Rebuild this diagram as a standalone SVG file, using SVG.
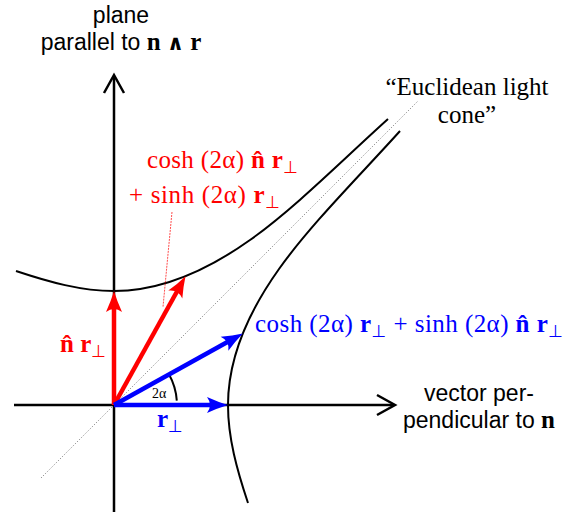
<svg xmlns="http://www.w3.org/2000/svg" width="577" height="512" viewBox="0 0 577 512">
<style>
.axis{stroke:#000;stroke-width:2.5;fill:none}
.curve{stroke:#000;stroke-width:2;fill:none}
.cone{stroke:#888;stroke-width:1;stroke-dasharray:1.2 1.8;fill:none}
.vr{stroke:#f00;stroke-width:4.5;fill:none}
.vb{stroke:#00f;stroke-width:4.5;fill:none}
.sans{font-family:"Liberation Sans",Arial,sans-serif;font-size:23px;fill:#000}
.serif{font-family:"Liberation Serif","Times New Roman",serif;font-size:25px}
.small{font-size:14px}
.b{font-weight:bold}
.sub{font-family:"DejaVu Sans",sans-serif;font-size:17px;font-weight:normal}
.wedge{font-family:"DejaVu Sans",sans-serif;font-size:21px;font-weight:bold}
.red{fill:#f00}
.blue{fill:#00f}
</style>
<defs>
<marker id="ar" markerUnits="userSpaceOnUse" orient="auto" refX="0" refY="0" markerWidth="30" markerHeight="30" overflow="visible">
<path d="M13,0 Q3,-3 -8,-8 Q-2,0 -8,8 Q3,3 13,0Z" fill="#f00"/>
</marker>
<marker id="ab" markerUnits="userSpaceOnUse" orient="auto" refX="0" refY="0" markerWidth="30" markerHeight="30" overflow="visible">
<path d="M13,0 Q3,-3 -8,-8 Q-2,0 -8,8 Q3,3 13,0Z" fill="#00f"/>
</marker>
</defs>
<g id="connectors">
<line class="cone" x1="41" y1="478" x2="418" y2="101"/>
<g id="axes">
<line class="axis" x1="114" y1="512" x2="114" y2="76"/>
<polyline class="axis" points="104,93 114,75 124,93"/>
<line class="axis" x1="14" y1="405" x2="394" y2="405"/>
<polyline class="axis" points="377,395 395,405 377,415"/>
</g>
<path id="upper-branch" class="curve" d="M16,271 C49,282 81,291 114,291 C159,291 205,272 250,240 C295,208 343,159.5 388,119"/>
<path id="right-branch" class="curve" d="M248,503 C237,470 228,438 228,405 C228,360 247,314 279,269 C311,224 359.5,176 400,131"/>
<path id="angle" class="curve" stroke-width="1.5" d="M176.8,400.6 A63,63 0 0 0 169.1,374.5"/>
<line x1="172" y1="212" x2="163" y2="307" stroke="#f00" stroke-width="0.7" stroke-dasharray="2 1"/>
<line class="vr" x1="114" y1="405" x2="114" y2="304" marker-end="url(#ar)"/>
<line class="vr" x1="114" y1="405" x2="179.2" y2="287.5" marker-end="url(#ar)"/>
<line class="vb" x1="114" y1="405" x2="231.5" y2="339.8" marker-end="url(#ab)"/>
<line class="vb" x1="114" y1="405" x2="215" y2="405" marker-end="url(#ab)"/>
</g>
<g id="label-plane">
<text class="sans" x="121" y="23" text-anchor="middle">plane</text>
<text class="sans" x="121" y="50" text-anchor="middle">parallel to <tspan class="serif b">n <tspan class="wedge">∧</tspan> r</tspan></text>
</g>
<g id="label-cone">
<text class="serif" x="467" y="95" text-anchor="middle">“Euclidean light</text>
<text class="serif" x="467" y="123" text-anchor="middle">cone”</text>
</g>
<g id="label-red">
<text class="serif red" x="147" y="168" textLength="151" lengthAdjust="spacing">cosh (2α) <tspan class="b">n̂</tspan> <tspan class="b">r</tspan><tspan class="sub" dy="5">⊥</tspan></text>
<text class="serif red" x="129" y="203" textLength="151" lengthAdjust="spacing">+ sinh (2α) <tspan class="b">r</tspan><tspan class="sub" dy="5">⊥</tspan></text>
</g>
<g id="label-nr">
<text class="serif red" x="60" y="352"><tspan class="b">n̂ r</tspan><tspan class="sub" dy="5">⊥</tspan></text>
</g>
<g id="label-blue">
<text class="serif blue" x="255" y="332" textLength="308" lengthAdjust="spacing">cosh (2α) <tspan class="b">r</tspan><tspan class="sub" dy="5">⊥</tspan><tspan dy="-5"> + sinh (2α) </tspan><tspan class="b">n̂ r</tspan><tspan class="sub" dy="5">⊥</tspan></text>
</g>
<g id="label-r">
<text class="serif blue" x="157" y="427"><tspan class="b">r</tspan><tspan class="sub" dy="5">⊥</tspan></text>
</g>
<g id="label-angle">
<text class="serif small" x="152" y="398">2α</text>
</g>
<g id="label-vector">
<text class="sans" x="479" y="401" text-anchor="middle">vector per-</text>
<text class="sans" x="479" y="428" text-anchor="middle">pendicular to <tspan class="serif b">n</tspan></text>
</g>
</svg>
